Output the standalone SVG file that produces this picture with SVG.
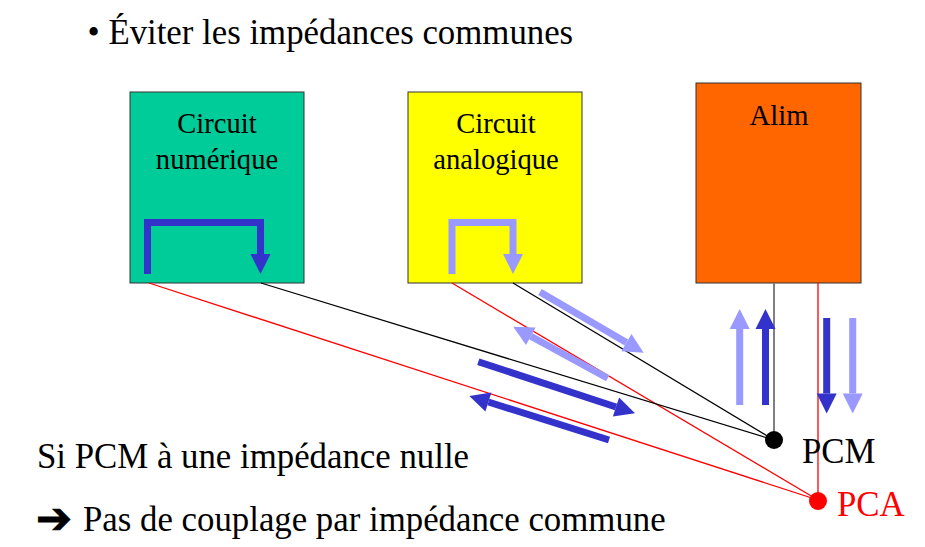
<svg xmlns="http://www.w3.org/2000/svg" width="925" height="547" viewBox="0 0 925 547">
<style>
text{font-family:"Liberation Serif","Times New Roman",serif;fill:#000}
.box{stroke:#333;stroke-width:1}
.lbl{font-size:28.600px;text-anchor:middle}
.big{font-size:34.800px}
.wire{fill:none;stroke-width:1.3}
.d{fill:none;stroke:#3333CC;stroke-width:7;marker-end:url(#hd)}
.l{fill:none;stroke:#9999FF;stroke-width:7;marker-end:url(#hl)}
</style>
<defs>
<marker id="hd" markerUnits="userSpaceOnUse" markerWidth="22" markerHeight="22" refX="1" refY="11" orient="auto"><polygon points="1,1 21,11 1,21" fill="#3333CC"/></marker>
<marker id="hl" markerUnits="userSpaceOnUse" markerWidth="22" markerHeight="22" refX="1" refY="11" orient="auto"><polygon points="1,1 21,11 1,21" fill="#9999FF"/></marker>
</defs>
<rect width="925" height="547" fill="#fff"/>
<text id="title" class="big" x="87.500" y="44">• Éviter les impédances communes</text>
<g id="circuit-numerique">
<rect class="box" x="130" y="92" width="174" height="191" fill="#00CC99"/>
<text class="lbl" x="217" y="133">Circuit</text>
<text class="lbl" x="217" y="169">numérique</text>
</g>
<g id="circuit-analogique">
<rect class="box" x="408" y="92" width="174" height="191" fill="#FFFF00"/>
<text class="lbl" x="496" y="133">Circuit</text>
<text class="lbl" x="496" y="169">analogique</text>
</g>
<g id="alim">
<rect class="box" x="696" y="83" width="165" height="200" fill="#FF6600"/>
<text class="lbl" x="779" y="125">Alim</text>
</g>
<g id="connectors">
<path class="wire" stroke="#FF0000" d="M149 283L818 500M452 283L818 500M818 283V500"/>
<path class="wire" stroke="#000" d="M261 283L774 440M513 283L774 440"/>
<path fill="none" stroke="#808080" stroke-width="2" d="M774 283V440"/>
</g>
<g id="currents">
<path class="d" d="M147.500 274V222.500H260.500V254"/>
<path class="l" d="M452 274V222.500H513V254"/>
<path class="l" d="M540 292L626.400 342.600"/>
<path class="l" d="M607.700 378.300L530.800 336.300"/>
<path class="d" d="M478.300 361.700L616 407"/>
<path class="d" d="M609 440L488.400 402"/>
<path class="l" d="M739.700 405V329"/>
<path class="d" d="M765.500 405V329"/>
<path class="d" d="M826.700 318V393.500"/>
<path class="l" d="M852.700 318V393.500"/>
</g>
<g id="pcm">
<circle cx="774" cy="440" r="9" fill="#000"/>
<text class="big" x="802" y="463">PCM</text>
</g>
<g id="pca">
<circle cx="818" cy="501" r="9" fill="#FF0000"/>
<text class="big" x="837" y="516" style="fill:#FF0000">PCA</text>
</g>
<g id="note">
<text class="big" x="37" y="468">Si PCM à une impédance nulle</text>
<text x="36" y="533" style="font-family:'DejaVu Sans',sans-serif;font-size:43px;font-weight:bold;stroke:#000;stroke-width:1">➔</text>
<text class="big" x="83" y="531">Pas de couplage par impédance commune</text>
</g>
</svg>
